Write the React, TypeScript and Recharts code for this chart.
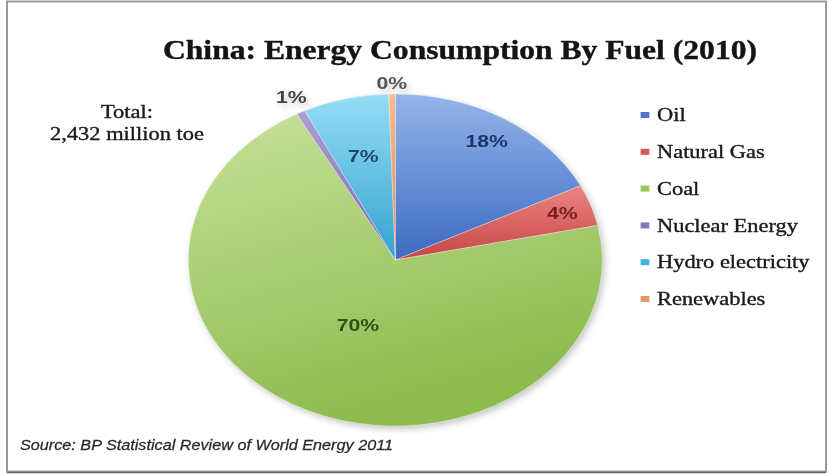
import React from 'react';
import { PieChart, Pie, Cell } from 'recharts';

// ---- data ----
const categories = ['Oil', 'Natural Gas', 'Coal', 'Nuclear Energy', 'Hydro electricity', 'Renewables'];
const values = [428.6, 98.1, 1713.5, 16.7, 163.1, 12.1]; // million toe
const titleText = 'China: Energy Consumption By Fuel (2010)';
const totalLines = ['Total:', '2,432 million toe'];
const sourceText = 'Source: BP Statistical Review of World Energy 2011';

// ---- styles ----
const gradTop = ['#94b4ea', '#ea8583', '#c6e19a', '#ada0d4', '#95dcf6', '#f5bb94'];
const gradBottom = ['#3d6bc2', '#c84444', '#8dbb4e', '#7b66ad', '#34a3cf', '#e4874c'];
const legendColors = ['#4a78c8', '#d65656', '#9bc45c', '#8a74b8', '#46b4dc', '#ec9660'];
const labelColors = ['#1c3766', '#7a2020', '#2f4f18', '#444444', '#1a4a66', '#555555'];
const labelRadius = [0.84, 0.855, 0.43, 1.1, 0.645, 1.066];

const SX = 1.247; // horizontal stretch of the picture
const W = 829;
const H = 476;
const IW = W / SX;
const PIE_BOX = 400;
const CX = 395 / SX;
const CY = 260;
const R = 166;

const data = categories.map((name, i) => ({ name, value: values[i] }));

const renderLabel = (props: any) => {
  const { cx, cy, midAngle, outerRadius, percent, index } = props;
  const r = outerRadius * labelRadius[index];
  const a = (-midAngle * Math.PI) / 180;
  const x = cx + r * Math.cos(a);
  const y = cy + r * Math.sin(a);
  return (
    <text
      x={x}
      y={y}
      textAnchor="middle"
      dominantBaseline="central"
      fill={labelColors[index]}
      fontFamily="'Liberation Sans', Arial, sans-serif"
      fontWeight="bold"
      fontSize={17}
    >
      {Math.round(percent * 100)}%
    </text>
  );
};

export default function App() {
  return (
    <div style={{ position: 'absolute', left: 0, top: 0, width: W, height: H, background: '#fff', overflow: 'hidden' }}>
      <div
        style={{
          position: 'absolute',
          left: 0,
          top: 0,
          width: IW,
          height: H,
          transform: `scaleX(${SX})`,
          transformOrigin: '0 0',
        }}
      >
        <div
          style={{
            position: 'absolute',
            left: CX - PIE_BOX / 2,
            top: CY - PIE_BOX / 2,
            width: PIE_BOX,
            height: PIE_BOX,
            filter: 'drop-shadow(2px 3px 3px rgba(0,0,0,0.22))',
          }}
        >
          <PieChart width={PIE_BOX} height={PIE_BOX} margin={{ top: 0, right: 0, bottom: 0, left: 0 }} style={{ overflow: 'visible' }}>
            <defs>
              {categories.map((c, i) => (
                <linearGradient key={c} id={`g${i}`} x1="0" y1="0" x2={i === 2 ? '0.35' : '0'} y2="1">
                  <stop offset="0%" stopColor={gradTop[i]} />
                  <stop offset="100%" stopColor={gradBottom[i]} />
                </linearGradient>
              ))}
            </defs>
            <Pie
              data={data}
              dataKey="value"
              nameKey="name"
              cx={PIE_BOX / 2}
              cy={PIE_BOX / 2}
              outerRadius={R}
              startAngle={90}
              endAngle={-270}
              isAnimationActive={false}
              label={renderLabel}
              labelLine={false}
              stroke="#ffffff"
              strokeWidth={0.5}
              strokeOpacity={0.6}
            >
              {data.map((d, i) => (
                <Cell key={d.name} fill={`url(#g${i})`} />
              ))}
            </Pie>
          </PieChart>
        </div>
        <svg width={IW} height={H} style={{ position: 'absolute', left: 0, top: 0, pointerEvents: 'none', overflow: 'visible' }}>
          <text
            x={460 / SX}
            y={59}
            textAnchor="middle"
            fontFamily="'Liberation Serif', 'Times New Roman', serif"
            fontWeight="bold"
            fontSize={27}
            fill="#141414"
            stroke="#141414"
            strokeWidth={0.4}
            textLength={594 / SX}
            lengthAdjust="spacingAndGlyphs"
          >
            {titleText}
          </text>
          {totalLines.map((t, i) => (
            <text
              key={t}
              x={127 / SX}
              y={118 + i * 22}
              textAnchor="middle"
              fontFamily="'Liberation Serif', 'Times New Roman', serif"
              fontSize={18}
              fill="#1a1a1a"
              stroke="#1a1a1a"
              strokeWidth={0.35}
            >
              {t}
            </text>
          ))}
          {categories.map((c, i) => {
            const cyRow = 115 + i * 36.8;
            return (
              <g key={c}>
                <rect x={645 / SX - 3.5} y={cyRow - 3} width={7} height={6} fill={legendColors[i]} />
                <text
                  x={657 / SX}
                  y={cyRow}
                  dominantBaseline="central"
                  fontFamily="'Liberation Serif', 'Times New Roman', serif"
                  fontSize={18}
                  fill="#1a1a1a"
                  stroke="#1a1a1a"
                  strokeWidth={0.35}
                >
                  {c}
                </text>
              </g>
            );
          })}
          <text
            x={20 / SX}
            y={450}
            fontFamily="'Liberation Sans', Arial, sans-serif"
            fontStyle="italic"
            fontSize={14}
            fill="#2a2a2a"
            stroke="#2a2a2a"
            strokeWidth={0.25}
            textLength={373 / SX}
            lengthAdjust="spacingAndGlyphs"
          >
            {sourceText}
          </text>
        </svg>
      </div>
      <svg width={W} height={H} style={{ position: 'absolute', left: 0, top: 0, pointerEvents: 'none' }}>
        <rect x={7} y={1.5} width={819} height={470} fill="none" stroke="#9a9a9a" strokeWidth={2} />
        <line x1={7} y1={472.5} x2={826} y2={472.5} stroke="#6a6a6a" strokeWidth={1.5} />
      </svg>
    </div>
  );
}
